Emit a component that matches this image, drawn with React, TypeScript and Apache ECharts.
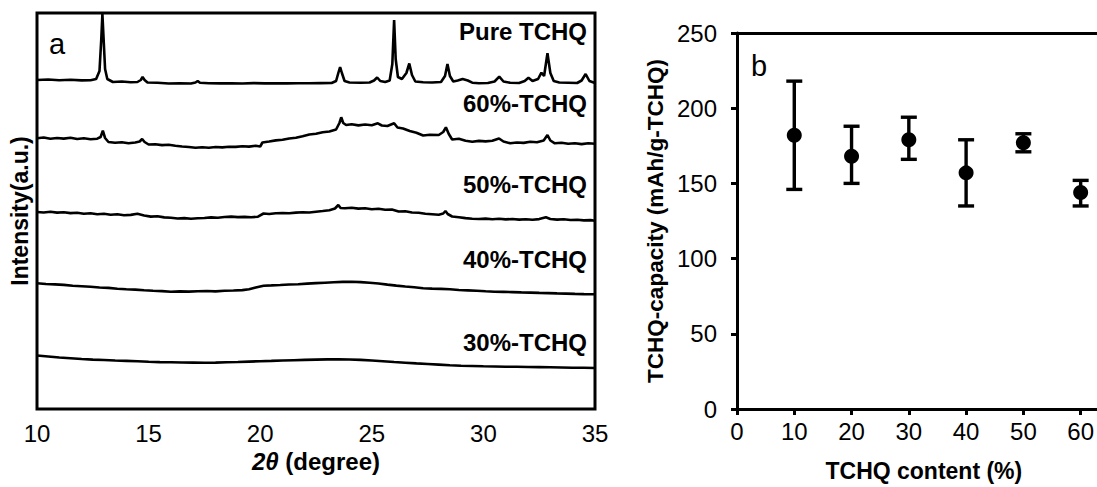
import React, { useEffect, useRef } from "react";
import * as echarts from "echarts";

// ---- Panel a: XRD patterns (2θ in degrees, intensity in a.u. with offsets) ----
const xrdTicks = [10, 15, 20, 25, 30, 35];
const pureTCHQ: number[][] = [
  [10, 329], [10.5, 329.5], [11, 328.8], [11.5, 329.2], [12, 328.6], [12.4, 328.8], [12.65, 330], [12.8, 338], [12.88, 370], [12.93, 395], [12.98, 372], [13.05, 340], [13.15, 330], [13.4, 327], [13.8, 327.5], [14.2, 326.8], [14.5, 327], [14.65, 329], [14.73, 332], [14.82, 329], [14.95, 326.5], [15.4, 326.2], [15.9, 325.5], [16.4, 325.8], [16.9, 325.5], [17.1, 326.5], [17.2, 328], [17.3, 326.3], [17.7, 325.8], [18.2, 325.6], [18.7, 325.8], [19.2, 325.5], [19.7, 325.9], [20.2, 325.6], [20.7, 325.7], [21.2, 325.6], [21.7, 325.8], [22.2, 325.7], [22.7, 325.9], [23.2, 326], [23.4, 328], [23.5, 336], [23.58, 342], [23.66, 336], [23.78, 328], [24, 326.5], [24.5, 326.3], [24.9, 326.5], [25.1, 328.5], [25.24, 331.5], [25.38, 328], [25.6, 327], [25.8, 328.5], [25.92, 345], [26.0, 389], [26.07, 350], [26.17, 332], [26.35, 330], [26.55, 336], [26.68, 345.5], [26.8, 334], [26.95, 327.5], [27.3, 326.8], [27.7, 326.5], [28.1, 327], [28.28, 333], [28.39, 345], [28.5, 333], [28.65, 327.5], [28.85, 328.5], [29.07, 330], [29.3, 328.5], [29.5, 326.3], [29.8, 325.8], [30.2, 326], [30.5, 327.5], [30.71, 332.3], [30.9, 327.5], [31.2, 326.2], [31.6, 326], [31.85, 328], [32.02, 331.3], [32.2, 328], [32.45, 330], [32.6, 336.3], [32.72, 333], [32.87, 355.7], [33.0, 336], [33.15, 328], [33.4, 326.5], [33.8, 326.3], [34.2, 326], [34.4, 328.5], [34.58, 335], [34.75, 328], [35, 326],
];
const tchq60: number[][] = [
  [10, 270.7], [10.3, 271.5], [10.6, 270.2], [10.9, 271], [11.2, 270.4], [11.5, 271.2], [11.8, 270], [12.1, 270.8], [12.4, 269.8], [12.7, 270.3], [12.85, 272], [12.95, 278.3], [13.05, 271], [13.2, 267], [13.5, 266.2], [13.8, 266.8], [14.1, 265.8], [14.4, 266.5], [14.6, 267.5], [14.71, 270], [14.82, 267], [15, 264.5], [15.3, 264.8], [15.6, 263.9], [15.9, 264.3], [16.2, 263.2], [16.5, 262.5], [16.8, 262], [17.1, 261.3], [17.4, 261.8], [17.7, 261.2], [18, 262], [18.3, 261.6], [18.6, 262.3], [18.9, 262.1], [19.2, 262.8], [19.5, 262.4], [19.8, 263.3], [20, 262.5], [20.1, 266.5], [20.4, 267.5], [20.7, 268.6], [21, 269.2], [21.3, 270.5], [21.6, 271.3], [21.9, 272.8], [22.2, 274.5], [22.5, 275.2], [22.8, 276.8], [23.1, 277.5], [23.4, 279.5], [23.55, 286], [23.63, 291.7], [23.72, 286], [23.85, 284], [24.1, 284.8], [24.4, 283.6], [24.7, 284.5], [25, 283.8], [25.27, 285.7], [25.45, 283.5], [25.7, 283], [26, 285.7], [26.15, 281.5], [26.4, 280.5], [26.7, 278], [27, 276.2], [27.3, 273.5], [27.6, 274.2], [28, 274], [28.2, 277], [28.32, 281.7], [28.45, 275], [28.6, 269.5], [28.9, 270.2], [29.2, 268.3], [29.5, 267.3], [29.8, 268.1], [30.1, 267.6], [30.4, 268.2], [30.7, 270.5], [30.9, 267.5], [31.2, 265.7], [31.5, 266.5], [31.8, 266.1], [32.1, 267.2], [32.4, 266.8], [32.7, 268.5], [32.87, 274], [33, 268.5], [33.2, 265.7], [33.5, 266.3], [33.8, 265.2], [34.1, 265.8], [34.4, 264.9], [34.7, 265.7], [35, 265.3],
];
const tchq50: number[][] = [
  [10, 197], [10.3, 196.5], [10.6, 197.2], [10.9, 196.4], [11.2, 196.8], [11.5, 195.9], [11.8, 196.3], [12.1, 195.3], [12.4, 195.7], [12.7, 194.8], [13, 195.2], [13.3, 194.3], [13.6, 194.7], [13.9, 193.8], [14.2, 194.1], [14.5, 195.2], [14.8, 193.5], [15.1, 192.4], [15.4, 192.8], [15.7, 191.6], [16, 191.2], [16.3, 190.5], [16.6, 190.9], [16.9, 190.3], [17.2, 190.8], [17.5, 191], [17.8, 191.6], [18.1, 191.3], [18.4, 192], [18.7, 192.4], [19, 191.9], [19.3, 192.1], [19.6, 191.7], [19.9, 192.3], [20.15, 195.5], [20.4, 195], [20.7, 195.8], [21, 196], [21.3, 195.7], [21.6, 196.4], [21.9, 196.8], [22.2, 196.5], [22.5, 197.3], [22.8, 198], [23.1, 198.8], [23.35, 200.5], [23.5, 204], [23.6, 201], [23.8, 200.7], [24.1, 201.2], [24.4, 200.4], [24.7, 200.8], [25, 199.8], [25.3, 200.2], [25.6, 199.3], [25.9, 199.5], [26.2, 197.5], [26.5, 197.8], [26.8, 196.5], [27.1, 196.2], [27.4, 195.3], [27.7, 194.8], [28, 194.3], [28.2, 195.5], [28.3, 198], [28.4, 195], [28.6, 192.5], [28.9, 191.8], [29.2, 190.9], [29.5, 190.3], [29.8, 190], [30.1, 190.4], [30.4, 189.8], [30.7, 190.2], [31, 189.6], [31.3, 190], [31.6, 189.4], [31.9, 189.8], [32.2, 189.3], [32.5, 189.9], [32.8, 191.7], [33, 190], [33.3, 189.4], [33.6, 189.8], [33.9, 189], [34.2, 189.3], [34.5, 188.6], [34.8, 188.9], [35, 188.3],
];
const tchq40: number[][] = [
  [10, 125.7], [10.4, 125], [10.8, 124.6], [11.2, 124.1], [11.6, 123.2], [12, 122.7], [12.4, 122.2], [12.8, 121.5], [13.2, 121.1], [13.6, 120.3], [14, 119.8], [14.4, 119.4], [14.8, 118.8], [15.2, 118.3], [15.6, 117.9], [16, 117.3], [16.4, 117.6], [16.8, 117.4], [17.2, 117.8], [17.6, 118], [18, 117.6], [18.4, 118.3], [18.8, 118.5], [19.2, 118.9], [19.5, 119.8], [19.8, 121.5], [20.15, 123.3], [20.5, 123.6], [20.9, 124], [21.3, 124.5], [21.7, 124.8], [22.1, 125.4], [22.5, 125.9], [22.9, 126.3], [23.3, 126.7], [23.7, 127.1], [24.1, 127.3], [24.5, 126.9], [24.9, 126.2], [25.3, 125.5], [25.7, 124.4], [26.1, 123.4], [26.5, 122.5], [26.9, 121.7], [27.3, 120.8], [27.7, 120.4], [28.1, 120.1], [28.5, 119.7], [28.9, 119], [29.3, 118.6], [29.7, 118.2], [30.1, 117.7], [30.5, 117.3], [30.9, 117.1], [31.3, 116.9], [31.7, 116.6], [32.1, 116.4], [32.5, 116.1], [32.9, 115.9], [33.3, 115.6], [33.7, 115.4], [34.1, 115.1], [34.5, 114.9], [35, 114.7],
];
const tchq30: number[][] = [
  [10, 53.5], [10.5, 52.5], [11, 51.5], [11.5, 50.8], [12, 50], [12.5, 49.4], [13, 49], [13.5, 48.5], [14, 48.1], [14.5, 47.7], [15, 47.2], [15.5, 46.9], [16, 46.7], [16.5, 46.5], [17, 46.4], [17.5, 46.3], [18, 46.4], [18.5, 46.7], [19, 47], [19.5, 47.4], [20, 47.8], [20.5, 48.1], [21, 48.5], [21.5, 48.8], [22, 49.1], [22.5, 49.4], [23, 49.6], [23.5, 49.7], [24, 49.5], [24.5, 49.1], [25, 48.5], [25.5, 47.8], [26, 47], [26.5, 46.3], [27, 45.6], [27.5, 45], [28, 44.4], [28.5, 43.8], [29, 43.3], [29.5, 43], [30, 42.7], [30.5, 42.5], [31, 42.3], [31.5, 42.2], [32, 42], [32.5, 41.9], [33, 41.7], [33.5, 41.5], [34, 41.3], [34.5, 41.2], [35, 41],
];
const traceLabels = ["Pure TCHQ", "60%-TCHQ", "50%-TCHQ", "40%-TCHQ", "30%-TCHQ"];

// ---- Panel b: capacity vs TCHQ content ----
const contentPct = [10, 20, 30, 40, 50, 60];
const capacityMean = [182, 168, 179, 157, 177, 144];
const capacityLow = [146, 150, 166, 135, 171, 135];
const capacityHigh = [218, 188, 194, 179, 183, 152];

const FONT = "'Liberation Sans', Arial, Helvetica, sans-serif";

export default function App() {
  const ref = useRef<HTMLDivElement>(null);
  useEffect(() => {
    if (!ref.current) return;
    const chart = echarts.init(ref.current, null, { renderer: "svg" });
    const traces = [pureTCHQ, tchq60, tchq50, tchq40, tchq30];
    const labelY = [32, 104, 185, 260, 343];
    const errData = contentPct.map((x, i) => [x, capacityMean[i], capacityLow[i], capacityHigh[i]]);
    const meanData = contentPct.map((x, i) => [x, capacityMean[i]]);
    const option: any = {
      animation: false,
      backgroundColor: "#fff",
      grid: [
        { left: 37, top: 13, width: 558, height: 396, show: true, borderColor: "#000", borderWidth: 3, backgroundColor: "transparent" },
        { left: 737, top: 33, right: 0, bottom: 75 },
      ],
      xAxis: [
        {
          gridIndex: 0, type: "value", min: 10, max: 35, interval: 5,
          axisLine: { show: false }, axisTick: { show: false }, splitLine: { show: false },
          axisLabel: { color: "#000", fontSize: 24, fontFamily: FONT, margin: 12 },
          name: "{it|2θ} (degree)", nameLocation: "middle", nameGap: 36,
          nameTextStyle: {
            color: "#000", fontSize: 24, fontWeight: "bold", fontFamily: FONT,
            rich: { it: { fontStyle: "italic", fontWeight: "bold", fontSize: 24, fontFamily: FONT, color: "#000" } },
          },
        },
        {
          gridIndex: 1, type: "value", min: 0, max: 62.8, interval: 10,
          axisLine: { show: true, onZero: false, lineStyle: { color: "#000", width: 3 } },
          axisTick: { show: true, length: 6, lineStyle: { color: "#000", width: 3 } },
          splitLine: { show: false },
          axisLabel: { color: "#000", fontSize: 24, fontFamily: FONT, margin: 10, showMaxLabel: false },
          name: "TCHQ content (%)", nameLocation: "middle", nameGap: 50,
          nameTextStyle: { color: "#000", fontSize: 23, fontWeight: "bold", fontFamily: FONT, padding: [0, 0, 0, 14] },
        },
        {
          gridIndex: 1, type: "value", position: "top", min: 0, max: 62.8,
          axisLine: { show: true, onZero: false, lineStyle: { color: "#000", width: 3 } },
          axisTick: { show: false }, axisLabel: { show: false }, splitLine: { show: false },
        },
      ],
      yAxis: [
        {
          gridIndex: 0, type: "value", min: 0, max: 396,
          axisLine: { show: false }, axisTick: { show: false }, axisLabel: { show: false }, splitLine: { show: false },
          name: "Intensity(a.u.)", nameLocation: "middle", nameGap: 6,
          nameTextStyle: { color: "#000", fontSize: 23, fontWeight: "bold", fontFamily: FONT },
        },
        {
          gridIndex: 1, type: "value", min: 0, max: 250, interval: 50,
          axisLine: { show: true, onZero: false, lineStyle: { color: "#000", width: 3 } },
          axisTick: { show: true, length: 6, lineStyle: { color: "#000", width: 3 } },
          splitLine: { show: false },
          axisLabel: { color: "#000", fontSize: 24, fontFamily: FONT, margin: 20 },
          name: "TCHQ-capacity (mAh/g-TCHQ)", nameLocation: "middle", nameGap: 70,
          nameTextStyle: { color: "#000", fontSize: 22.5, fontWeight: "bold", fontFamily: FONT },
        },
      ],
      series: [
        ...traces.map((d, i) => ({
          type: "line", name: traceLabels[i], xAxisIndex: 0, yAxisIndex: 0, data: d,
          showSymbol: false, symbol: "none", lineStyle: { color: "#000", width: 2.6 }, z: 3,
        })),
        {
          type: "custom", name: "error", xAxisIndex: 1, yAxisIndex: 1, data: errData,
          renderItem: (params: any, api: any) => {
            const x = api.value(0);
            const lo = api.coord([x, api.value(2)]);
            const hi = api.coord([x, api.value(3)]);
            const hw = 8;
            const st = { stroke: "#000", lineWidth: 3.4 };
            return {
              type: "group",
              children: [
                { type: "line", shape: { x1: lo[0], y1: lo[1], x2: hi[0], y2: hi[1] }, style: st },
                { type: "line", shape: { x1: lo[0] - hw, y1: lo[1], x2: lo[0] + hw, y2: lo[1] }, style: st },
                { type: "line", shape: { x1: hi[0] - hw, y1: hi[1], x2: hi[0] + hw, y2: hi[1] }, style: st },
              ],
            };
          },
          z: 3,
        },
        {
          type: "scatter", name: "capacity", xAxisIndex: 1, yAxisIndex: 1, data: meanData,
          symbol: "circle", symbolSize: 15, itemStyle: { color: "#000", opacity: 1 }, z: 4,
        },
      ],
      graphic: [
        ...traceLabels.map((t, i) => ({
          type: "text", right: 1097 - 587, top: labelY[i] - 13,
          style: { text: t, fill: "#000", font: `bold 24px ${FONT}` },
        })),
        { type: "text", left: 49, top: 29, style: { text: "a", fill: "#000", font: `29px ${FONT}` } },
        { type: "text", left: 751, top: 51, style: { text: "b", fill: "#000", font: `29px ${FONT}` } },
      ],
    };
    chart.setOption(option);
    return () => chart.dispose();
  }, []);
  return (
    <div
      ref={ref}
      style={{ position: "fixed", left: 0, top: 0, width: 1097, height: 487, background: "#fff" }}
    />
  );
}
